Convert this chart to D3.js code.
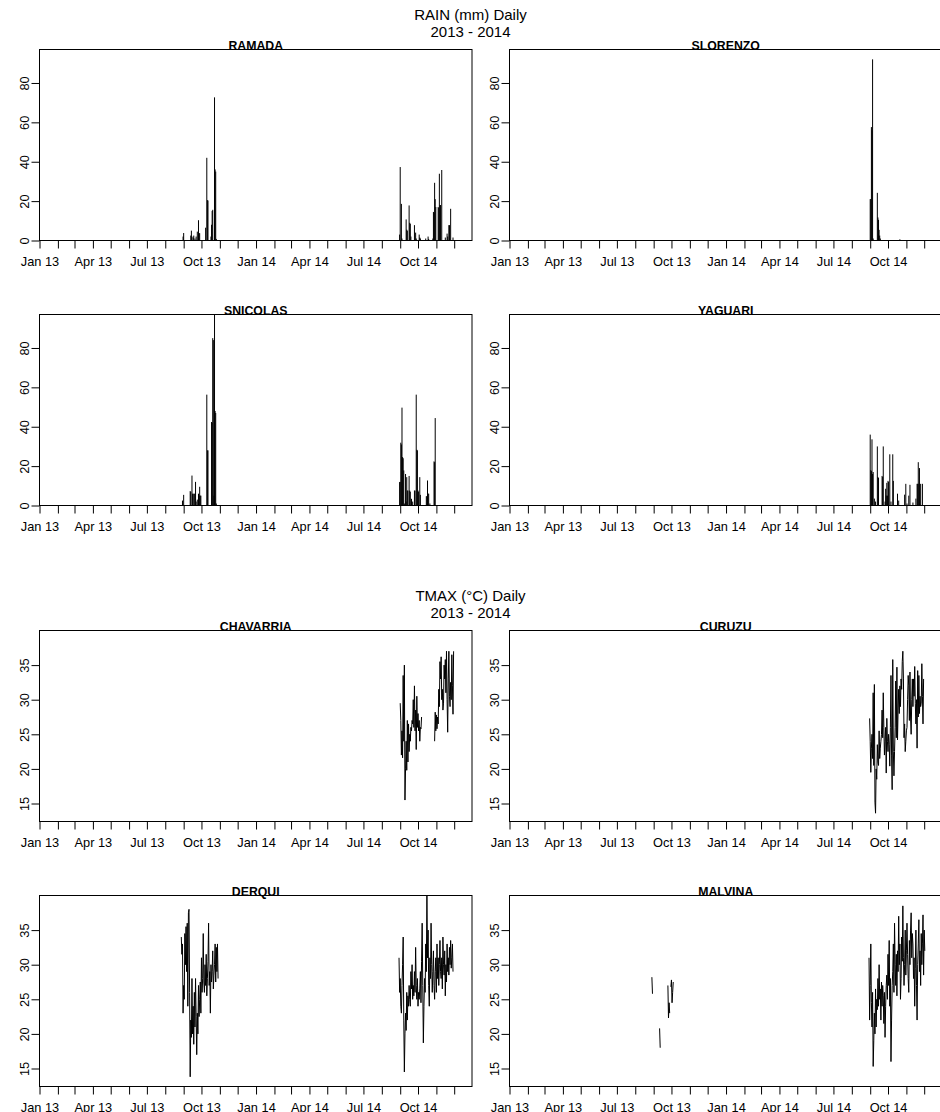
<!DOCTYPE html>
<html>
<head>
<meta charset="utf-8">
<script src="https://cdn.jsdelivr.net/npm/d3@7"></script>
<style>
  body { margin: 0; background: #fff; }
  svg { display: block; }
</style>
</head>
<body>
<svg id="chart" width="940" height="1112"></svg>
<script>
// ---- Daily rain (mm): only days with rain are listed, every other day is 0 ----
const ramadaRain = [
  ["2013-08-31",2],["2013-09-01",3.8],["2013-09-13",2.5],["2013-09-14",5],["2013-09-15",2],
  ["2013-09-17",1.5],["2013-09-18",2.5],["2013-09-20",1],["2013-09-22",2],["2013-09-24",4.5],
  ["2013-09-26",10.3],["2013-09-27",3.7],["2013-09-28",3.7],["2013-10-08",6.5],["2013-10-10",42],
  ["2013-10-11",20.5],["2013-10-12",20.3],["2013-10-17",2],["2013-10-18",8],["2013-10-19",15],
  ["2013-10-20",15.6],["2013-10-23",72.7],["2013-10-24",36.1],["2013-10-25",35],["2013-10-26",0.8],
  ["2014-08-31",3],["2014-09-01",37.3],["2014-09-03",18.6],["2014-09-04",1],["2014-09-11",10.7],
  ["2014-09-12",5.5],["2014-09-13",5],["2014-09-16",17.8],["2014-09-17",9],["2014-09-18",8.5],
  ["2014-09-19",2],["2014-09-25",7.8],["2014-09-27",4],["2014-09-28",1],["2014-10-03",3],
  ["2014-10-04",1.5],["2014-10-05",1],["2014-10-14",1],["2014-10-18",2],["2014-10-19",0.8],
  ["2014-10-26",1],["2014-10-27",14.5],["2014-10-28",14],["2014-10-29",29.3],["2014-10-30",21],
  ["2014-10-31",17],["2014-11-04",17],["2014-11-05",16.5],["2014-11-06",33.9],["2014-11-07",18],
  ["2014-11-08",18],["2014-11-10",35.8],["2014-11-16",1.5],["2014-11-19",3.5],["2014-11-20",2],
  ["2014-11-22",7.8],["2014-11-23",7.8],["2014-11-25",16.1],["2014-11-29",1.5]
];
const slorenzoRain = [
  ["2014-09-01",21],["2014-09-02",21],["2014-09-03",57.6],["2014-09-04",56],["2014-09-05",92],
  ["2014-09-06",1],["2014-09-13",24.2],["2014-09-14",11.7],["2014-09-15",10.5],["2014-09-16",5.4],
  ["2014-09-17",2.5],["2014-09-18",1],["2014-10-21",0.6]
];
const snicolasRain = [
  ["2013-08-30",2.5],["2013-09-01",5.4],["2013-09-12",7.3],["2013-09-13",7],["2013-09-15",15.2],
  ["2013-09-16",6],["2013-09-18",6],["2013-09-19",6],["2013-09-21",12],["2013-09-22",2],
  ["2013-09-24",3],["2013-09-26",6],["2013-09-27",5],["2013-09-28",9.5],["2013-09-29",5],
  ["2013-09-30",5],["2013-10-10",56.3],["2013-10-11",28],["2013-10-12",28],["2013-10-18",42.4],
  ["2013-10-19",42],["2013-10-20",85],["2013-10-21",84],["2013-10-22",5],["2013-10-23",97],
  ["2013-10-24",48],["2013-10-25",47],["2013-10-26",1],
  ["2014-08-31",11.9],["2014-09-01",12],["2014-09-02",31.9],["2014-09-03",31],["2014-09-04",49.7],
  ["2014-09-05",24.6],["2014-09-06",24],["2014-09-07",17.8],["2014-09-08",1],["2014-09-10",16],
  ["2014-09-11",2],["2014-09-12",14.4],["2014-09-13",7.6],["2014-09-14",7.6],["2014-09-16",15],
  ["2014-09-17",7.6],["2014-09-18",7],["2014-09-20",3.4],["2014-09-22",2],["2014-09-25",7.6],
  ["2014-09-26",7.6],["2014-09-28",56.3],["2014-09-29",28.3],["2014-09-30",28],["2014-10-01",7.6],
  ["2014-10-02",7],["2014-10-04",14.4],["2014-10-05",5.4],["2014-10-15",4.7],["2014-10-16",4.7],
  ["2014-10-17",12.7],["2014-10-18",6],["2014-10-19",6],["2014-10-21",1],["2014-10-28",22.4],
  ["2014-10-29",22],["2014-10-30",44.4]
];
const yaguariRain = [
  ["2014-09-01",36],["2014-09-02",18],["2014-09-03",17.5],["2014-09-04",33.6],["2014-09-05",16],
  ["2014-09-06",17],["2014-09-08",3.5],["2014-09-10",2],["2014-09-13",30],["2014-09-14",14.5],
  ["2014-09-15",14],["2014-09-21",15],["2014-09-22",14.5],["2014-09-23",30],["2014-09-26",2],
  ["2014-09-27",8.5],["2014-09-28",5],["2014-09-29",11.5],["2014-09-30",5],["2014-10-01",12.5],
  ["2014-10-02",12],["2014-10-04",26],["2014-10-06",2],["2014-10-09",26],["2014-10-10",12.5],
  ["2014-10-17",6],["2014-10-19",2.5],["2014-10-29",5.5],["2014-10-31",11],["2014-11-02",1],
  ["2014-11-05",5],["2014-11-07",10.5],["2014-11-12",1.5],["2014-11-17",3.5],["2014-11-19",11],
  ["2014-11-20",11],["2014-11-21",22],["2014-11-22",11],["2014-11-23",19],["2014-11-25",11],
  ["2014-11-28",11]
];

// ---- Daily maximum temperature (°C): runs of consecutive days [first day, values] ----
const chavarriaTmax = [
  ["2014-09-01", [29.5,27.0,22.0,25.5,21.6,33.5,24.0,35.0,15.5,20.0,24.0,19.8,27.0,21.0,26.5,22.5,25.0,24.0,26.0,25.5,
                  27.0,26.5,30.0,26.0,32.0,25.5,28.5,22.8,30.5,26.0,28.0,25.5,27.0,24.0,26.0,25.8,27.5]],
  ["2014-10-29", [24.0,28.2,25.5,27.8,25.8,27.5,26.5,31.5,29.0,35.5,33.0,36.2,30.0,31.5,28.5,29.5,35.0,33.0,35.8,31.0,
                  37.0,30.0,25.3,33.0,37.0,30.5,29.0,32.5,30.0,36.5,32.0,27.9,37.0]]
];
const curuzuTmax = [
  ["2014-08-31", [27.3,24.0,19.5,23.0,25.0,21.5,31.0,20.5,32.2,15.2,13.6,20.0,18.5,23.5,21.0,20.5,25.5,21.5,23.0,24.0,
                  25.0,28.5,24.5,31.0,26.0,22.0,24.0,26.0,19.4,27.3,24.0,22.5,25.0,23.5,20.4,26.0,33.5,22.0,17.0,35.8,
                  22.5,19.0,22.5,26.0,32.7,24.5,34.7,24.2,28.5,31.5,28.0,32.0,29.0,33.0,31.5,35.5,37.0,33.0,24.5,26.5,
                  22.5,24.0,25.5,26.0,30.0,33.5,32.0,27.0,34.0,27.5,25.0,30.0,33.0,29.0,33.0,30.5,34.8,29.5,26.5,30.0,
                  23.0,34.2,27.5,33.5,28.0,30.5,29.0,29.5,35.2,30.5,26.5,33.0]]
];
const derquiTmax = [
  ["2013-08-28", [34.0,31.5,33.0,23.0,27.0,25.0,34.5,30.0,35.5,29.0,36.0,24.0,37.5,38.0,26.0,13.8,22.0,19.5,28.0,20.0,
                  24.0,18.5,26.0,21.0,28.0,22.5,17.0,23.0,20.0,27.0,22.5,25.0,27.5,23.0,31.0,26.0,28.0,34.5,27.5,26.0,
                  30.0,27.0,31.5,25.5,28.0,30.5,36.0,27.0,29.0,23.0,30.0,27.5,29.0,32.0,26.5,28.5,30.0,33.0,27.5,32.5,
                  29.0,33.0,28.0]],
  ["2014-08-30", [31.0,26.0,28.0,24.0,23.0,27.0,30.0,34.0,22.0,14.5,20.0,23.0,20.5,26.0,22.0,25.5,24.0,27.0,25.0,24.0,
                  29.0,26.5,30.0,25.0,27.0,25.5,29.0,26.0,32.5,27.0,25.0,28.0,24.0,26.0,25.0,26.5,29.0,24.5,30.5,36.0,
                  27.0,18.7,24.0,28.0,26.0,33.0,29.0,40.0,31.0,35.0,27.0,24.0,31.0,28.0,36.0,30.0,26.0,29.0,32.0,27.0,
                  25.0,29.0,31.0,26.0,33.0,28.0,31.0,27.0,30.0,33.5,29.0,28.0,31.0,26.5,34.0,30.0,28.5,32.0,25.5,30.0,
                  27.5,33.0,29.0,31.0,28.5,32.5,30.0,33.5,29.5,31.0,33.0,29.0]]
];
const malvinaTmax = [
  ["2013-08-29", [28.2,25.8]],
  ["2013-09-11", [20.8,18.0]],
  ["2013-09-25", [27.0,22.3,24.5,23.0]],
  ["2013-09-30", [26.8,27.8,24.5,26.0,27.5]],
  ["2014-08-30", [31.0,22.0,27.0,33.0,24.5,21.0,26.0,15.3,19.0,23.0,20.0,26.5,21.0,25.0,23.5,28.0,24.0,30.0,25.0,26.5,
                  22.0,27.5,24.0,27.0,25.5,21.5,26.0,19.5,24.0,27.0,28.5,25.0,31.5,27.0,33.5,24.0,28.0,16.0,22.0,27.0,
                  29.0,33.0,26.0,36.0,30.0,27.0,31.5,25.5,32.0,29.0,37.0,30.0,33.0,25.0,28.0,34.0,30.5,38.5,31.0,27.0,
                  30.0,35.0,28.5,32.0,36.0,31.5,28.0,26.0,33.5,30.0,35.0,37.5,31.0,34.5,33.0,28.0,31.0,24.0,29.5,35.0,
                  27.0,22.0,30.0,33.0,36.5,29.0,32.0,27.0,34.5,30.0,33.0,37.2,28.5,35.0,32.0]]
];

// ---- Axis settings ----
const periodStart = "2013-01-01";
const periodEnd = "2014-12-31";
const lastTickMonth = "2014-12-02";
const monthLabels = ["Jan 13","Apr 13","Jul 13","Oct 13","Jan 14","Apr 14","Jul 14","Oct 14"];
const rainTicks = [0, 20, 40, 60, 80];
const rainRange = [0, 97];
const tmaxTicks = [15, 20, 25, 30, 35];
const tmaxRange = [12.4, 40];

// ---- Layout ----
const FONT = '"Liberation Sans", Arial, Helvetica, sans-serif';
const svg = d3.select("#chart");
const parseDay = d3.utcParse("%Y-%m-%d");
const fmtMonth = d3.utcFormat("%b %y");
const xDomain = [parseDay(periodStart), parseDay(periodEnd)];
const monthTicks = d3.utcMonth.range(parseDay(periodStart), parseDay(lastTickMonth));
const labelSet = new Set(monthLabels);

const PW = 432.5, PH = 191;
const colLeft = [39.5, 509.5];

function heading(y, line1, line2) {
  svg.append("text").attr("x", 470.5).attr("y", y)
    .attr("text-anchor", "middle").attr("font-family", FONT).attr("font-size", 15)
    .text(line1);
  svg.append("text").attr("x", 470.5).attr("y", y + 17)
    .attr("text-anchor", "middle").attr("font-family", FONT).attr("font-size", 15)
    .text(line2);
}

function panel(left, top, name, yDomain, yTicks, drawMarks) {
  const x = d3.scaleUtc().domain(xDomain).range([left, left + PW]);
  const y = d3.scaleLinear().domain(yDomain).range([top + PH, top]);
  const g = svg.append("g");

  drawMarks(g, x, y);

  g.append("rect")
    .attr("x", left).attr("y", top).attr("width", PW).attr("height", PH)
    .attr("fill", "none").attr("stroke", "#000").attr("stroke-width", 1);

  g.append("text")
    .attr("x", left + PW / 2).attr("y", top + 0.5)
    .attr("text-anchor", "middle").attr("font-family", FONT)
    .attr("font-size", 12.3).attr("font-weight", "bold")
    .text(name);

  const xa = g.append("g")
    .attr("transform", `translate(0,${top + PH})`)
    .call(d3.axisBottom(x).tickValues(monthTicks).tickSize(8).tickSizeOuter(0)
      .tickFormat(d => labelSet.has(fmtMonth(d)) ? fmtMonth(d) : ""));
  xa.select(".domain").remove();
  xa.attr("font-family", FONT).attr("font-size", 12.8);
  xa.selectAll("line").attr("stroke", "#000");
  xa.selectAll("text").attr("y", 25).attr("dy", null).attr("fill", "#000");

  const ya = g.append("g")
    .attr("transform", `translate(${left},0)`)
    .call(d3.axisLeft(y).tickValues(yTicks).tickSize(8).tickSizeOuter(0));
  ya.select(".domain").remove();
  ya.attr("font-family", FONT).attr("font-size", 12.8);
  ya.selectAll("line").attr("stroke", "#000");
  ya.selectAll("text")
    .attr("transform", "rotate(-90)")
    .attr("x", 0).attr("y", -10.8).attr("dy", null)
    .attr("text-anchor", "middle").attr("fill", "#000");
}

function rainBars(series) {
  return (g, x, y) => {
    g.append("g").selectAll("line")
      .data(series)
      .join("line")
      .attr("x1", d => x(parseDay(d[0]))).attr("x2", d => x(parseDay(d[0])))
      .attr("y1", y(0)).attr("y2", d => y(d[1]))
      .attr("stroke", "#000").attr("stroke-width", 1);
  };
}

function tmaxLines(runs) {
  return (g, x, y) => {
    const line = d3.line().x(d => x(d.date)).y(d => y(d.value));
    runs.forEach(([first, values]) => {
      const start = parseDay(first);
      const pts = values.map((v, i) => ({ date: d3.utcDay.offset(start, i), value: v }));
      g.append("path").datum(pts)
        .attr("d", line)
        .attr("fill", "none").attr("stroke", "#000").attr("stroke-width", 1)
        .attr("stroke-linejoin", "round");
    });
  };
}

// ---- Rain section ----
heading(19.5, "RAIN (mm) Daily", "2013 - 2014");
panel(colLeft[0], 49.5, "RAMADA", rainRange, rainTicks, rainBars(ramadaRain));
panel(colLeft[1], 49.5, "SLORENZO", rainRange, rainTicks, rainBars(slorenzoRain));
panel(colLeft[0], 314.5, "SNICOLAS", rainRange, rainTicks, rainBars(snicolasRain));
panel(colLeft[1], 314.5, "YAGUARI", rainRange, rainTicks, rainBars(yaguariRain));

// ---- Maximum temperature section ----
heading(600.7, "TMAX (°C) Daily", "2013 - 2014");
panel(colLeft[0], 630.5, "CHAVARRIA", tmaxRange, tmaxTicks, tmaxLines(chavarriaTmax));
panel(colLeft[1], 630.5, "CURUZU", tmaxRange, tmaxTicks, tmaxLines(curuzuTmax));
panel(colLeft[0], 895.5, "DERQUI", tmaxRange, tmaxTicks, tmaxLines(derquiTmax));
panel(colLeft[1], 895.5, "MALVINA", tmaxRange, tmaxTicks, tmaxLines(malvinaTmax));
</script>
</body>
</html>
